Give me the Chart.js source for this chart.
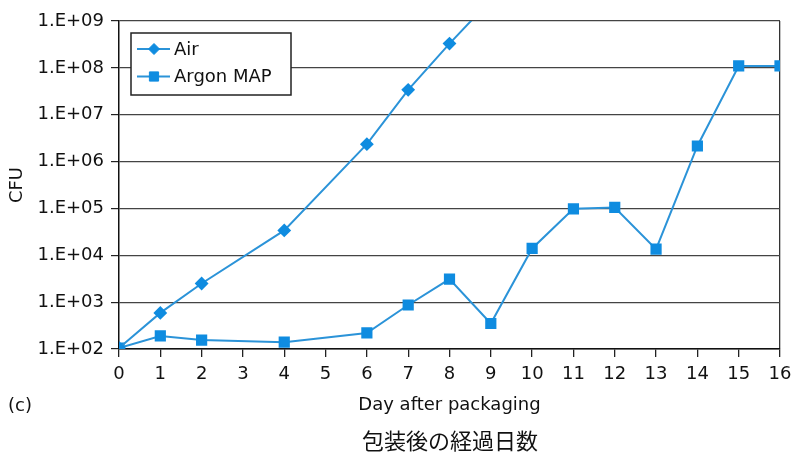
<!DOCTYPE html>
<html>
<head>
<meta charset="utf-8">
<script src="https://cdn.jsdelivr.net/npm/chart.js@4.4.0/dist/chart.umd.min.js"></script>
<style>
  html, body { margin: 0; padding: 0; background: #fff; }
  #wrap { width: 794px; height: 454px; position: relative; }
</style>
</head>
<body>
<div id="wrap"><canvas id="cfu" width="794" height="454"></canvas></div>
<script>
// Microbial counts (CFU) by day after packaging
const airDays = [0, 1, 2, 4, 6, 7, 8, 9];
const airCfu = [1.05e2, 5.9e2, 2.5e3, 3.4e4, 2.35e6, 3.4e7, 3.3e8, 2.8e9];

const argonDays = [0, 1, 2, 4, 6, 7, 8, 9, 10, 11, 12, 13, 14, 15, 16];
const argonCfu = [1.05e2, 1.9e2, 1.55e2, 1.4e2, 2.2e2, 8.7e2, 3.1e3, 3.5e2, 1.4e4, 9.8e4, 1.05e5, 1.35e4, 2.15e6, 1.1e8, 1.1e8];

const seriesNames = ['Air', 'Argon MAP'];
const yExponents = [2, 3, 4, 5, 6, 7, 8, 9];
const xTitle = 'Day after packaging';
const yTitle = 'CFU';
const panelTag = '(c)';
const jaCaption = '包装後の経過日数';

const LATIN = '"DejaVu Sans", "Liberation Sans", Arial, sans-serif';
const CJK = '"Noto Sans CJK JP", "Noto Sans CJK SC", sans-serif';
const LINE = '#2b93d8';
const MARK = '#0f8ce0';
const INK = '#111';
const FS = 18;

const toPoints = (xs, ys) => xs.map((x, i) => ({ x: x, y: ys[i] }));

// Boxed legend inside the plot, each entry shown as a line with its marker
const insetLegend = {
  id: 'insetLegend',
  afterDraw(chart) {
    const ctx = chart.ctx;
    const x0 = 131, y0 = 33, w = 160, h = 62;
    ctx.save();
    ctx.fillStyle = '#fff';
    ctx.fillRect(x0, y0, w, h);
    ctx.strokeStyle = '#222';
    ctx.lineWidth = 1.5;
    ctx.strokeRect(x0, y0, w, h);
    chart.data.datasets.forEach((ds, i) => {
      const y = y0 + 16 + i * 27.5;
      ctx.strokeStyle = ds.borderColor;
      ctx.lineWidth = 2;
      ctx.beginPath();
      ctx.moveTo(137, y);
      ctx.lineTo(170, y);
      ctx.stroke();
      ctx.fillStyle = ds.pointBackgroundColor;
      ctx.strokeStyle = ds.pointBorderColor;
      ctx.lineWidth = 1;
      Chart.helpers.drawPoint(ctx, { pointStyle: ds.pointStyle, radius: ds.pointRadius, borderWidth: 1, rotation: 0 }, 154, y);
      ctx.fillStyle = INK;
      ctx.font = FS + 'px ' + LATIN;
      ctx.textAlign = 'left';
      ctx.textBaseline = 'middle';
      ctx.fillText(ds.label, 174, y + 1);
    });
    ctx.restore();
  }
};

// Panel tag and Japanese axis caption below the chart
const captions = {
  id: 'captions',
  afterDraw(chart) {
    const ctx = chart.ctx;
    ctx.save();
    ctx.fillStyle = INK;
    ctx.textBaseline = 'middle';
    ctx.font = FS + 'px ' + LATIN;
    ctx.textAlign = 'left';
    ctx.fillText(panelTag, 8, 406);
    ctx.font = '22px ' + CJK;
    ctx.textAlign = 'center';
    ctx.fillText(jaCaption, 450, 441);
    ctx.restore();
  }
};

new Chart(document.getElementById('cfu'), {
  type: 'line',
  data: {
    datasets: [
      {
        label: seriesNames[0],
        data: toPoints(airDays, airCfu),
        borderColor: LINE,
        backgroundColor: MARK,
        pointBackgroundColor: MARK,
        pointBorderColor: MARK,
        pointStyle: 'rectRot',
        pointRadius: 5.5,
        borderWidth: 2,
        tension: 0
      },
      {
        label: seriesNames[1],
        data: toPoints(argonDays, argonCfu),
        borderColor: LINE,
        backgroundColor: MARK,
        pointBackgroundColor: MARK,
        pointBorderColor: MARK,
        pointStyle: 'rect',
        pointRadius: 6.5,
        borderWidth: 2,
        tension: 0
      }
    ]
  },
  options: {
    responsive: false,
    animation: false,
    devicePixelRatio: 1,
    layout: { padding: { top: 21, right: 14, left: 0, bottom: 0 } },
    plugins: { legend: { display: false }, tooltip: { enabled: false } },
    scales: {
      x: {
        type: 'linear',
        min: 0,
        max: 16,
        ticks: { stepSize: 1, autoSkip: false, padding: 7, color: INK, font: { family: LATIN, size: FS } },
        grid: {
          color: c => (c.tick && c.tick.value === 16 ? '#333' : 'rgba(0,0,0,0)'),
          tickColor: '#222',
          tickLength: 8,
          lineWidth: 1.3
        },
        border: { color: INK, width: 1.5 },
        title: { display: true, text: xTitle, color: INK, font: { family: LATIN, size: FS }, padding: { top: 0, bottom: 38 } },
        afterFit: s => { s.height = 105; s.paddingLeft = 0; s.paddingRight = 0; }
      },
      y: {
        type: 'logarithmic',
        min: 1e2,
        max: 1e9,
        afterBuildTicks: s => { s.ticks = yExponents.map(e => ({ value: Math.pow(10, e) })); },
        ticks: {
          padding: 7,
          color: INK,
          font: { family: LATIN, size: FS },
          callback: v => '1.E+' + String(Math.round(Math.log10(v))).padStart(2, '0')
        },
        grid: { color: '#444', tickColor: '#222', tickLength: 8, lineWidth: 1.2 },
        border: { color: INK, width: 1.5 },
        title: { display: true, text: yTitle, color: INK, font: { family: LATIN, size: FS }, padding: { top: 7, bottom: 0 } },
        afterFit: s => { s.width = 119; s.paddingTop = 0; s.paddingBottom = 0; }
      }
    }
  },
  plugins: [insetLegend, captions]
});
</script>
</body>
</html>
